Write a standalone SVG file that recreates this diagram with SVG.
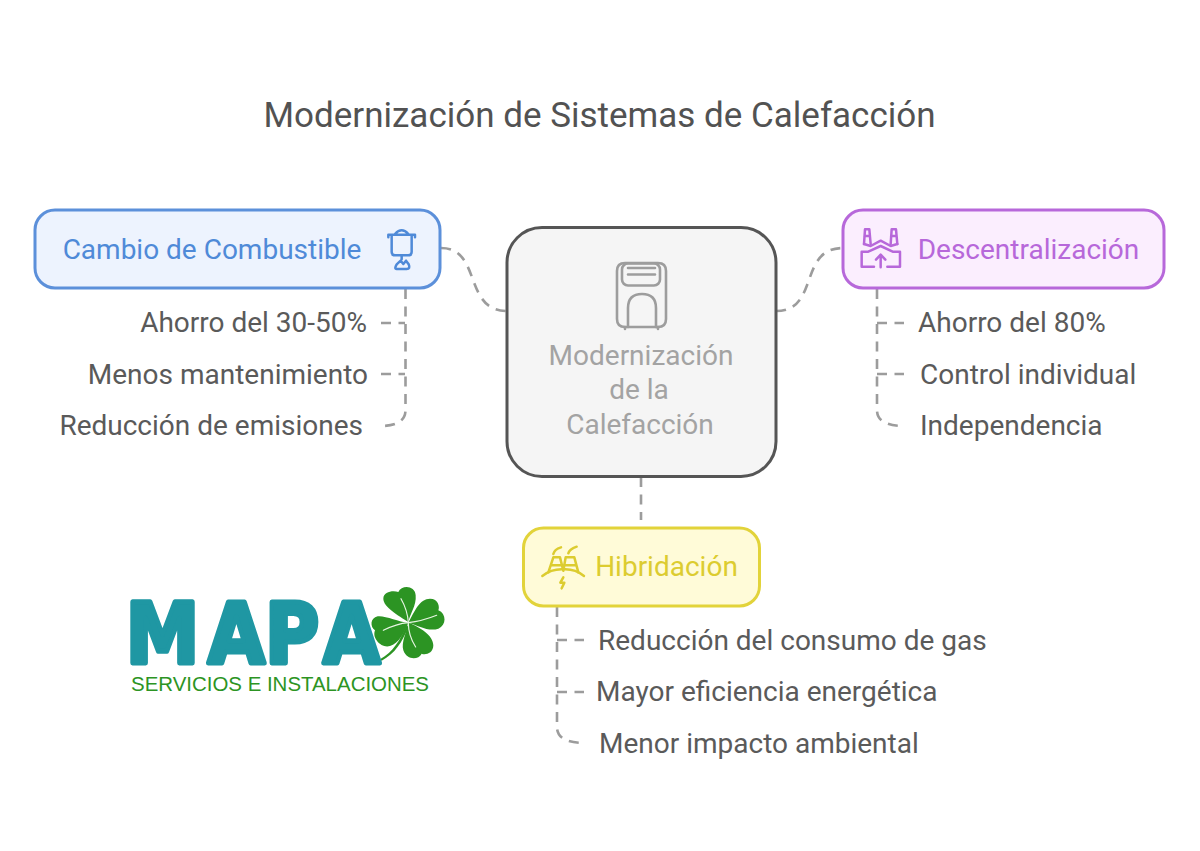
<svg xmlns="http://www.w3.org/2000/svg" width="1200" height="851" viewBox="0 0 1200 851">
<style>
text{font-family:Roboto,"Liberation Sans",sans-serif}
.title{font-size:35px;fill:#525252}
.lbl{font-size:28px}
.item{font-size:28px;fill:#5a5a5a}
.box{stroke-width:3}
.ic{fill:none;stroke-width:2.600;stroke-linecap:round;stroke-linejoin:round}
.ic3{fill:none;stroke-width:7.500;stroke-linecap:round;stroke-linejoin:round}
.c{fill:none;stroke:#9c9c9c;stroke-width:2.600;stroke-dasharray:10 7.500}
.vein{fill:none;stroke:#e8f5e4;stroke-width:3.500;stroke-linecap:round}
</style>
<rect width="1200" height="851" fill="#fff"/>
<text class="title" x="599.500" y="127" text-anchor="middle">Modernización de Sistemas de Calefacción</text>
<g id="connectors">
<path class="c" d="M441 248C482 248 463 311 507 311"/>
<path class="c" d="M776 311C820 311 798 248 843 248"/>
<path class="c" d="M641 477V520"/>
<path class="c" d="M405.500 289V410C405.500 420 398 426 381 426"/>
<path class="c" d="M381 323H405"/>
<path class="c" d="M381 374H405"/>
<path class="c" d="M877 289V410C877 420 885 426 905 426"/>
<path class="c" d="M877 323H904"/>
<path class="c" d="M877 374H904"/>
<path class="c" d="M557 607V727C557 737 565 743 585 743"/>
<path class="c" d="M557 640H584"/>
<path class="c" d="M557 692H584"/>
</g>
<g id="node-combustible">
<rect class="box" x="35" y="210" width="405" height="78" rx="20" fill="#edf3fe" stroke="#5c90da"/>
<text class="lbl" x="212" y="258.500" text-anchor="middle" fill="#4f8ad8">Cambio de Combustible</text>
<g class="ic3" stroke="#4f8ad8" transform="translate(380 222) scale(.3333)">
<path d="M25 46V38H105V46M35 38V90Q35 100 45 100H85Q95 100 95 90V38M45 36Q65 14 85 36M65 100V112"/>
<path d="M50 141H80Q92 141 86 127L78 116L70 126L62 116L50 127Q42 141 50 141Z"/>
</g>
</g>
<g id="node-central">
<rect class="box" x="507" y="227.500" width="269" height="249" rx="35" fill="#f5f5f5" stroke="#555"/>
<g class="ic" stroke="#9d9d9d">
<path d="M625 263H658Q666 263 666 271V319Q666 327 658 327H625Q617 327 617 319V271Q617 263 625 263Z"/>
<rect x="622" y="263.500" width="38" height="22" rx="6"/>
<path d="M628 268H655M628 274.500H655M628 327V308Q628 294 642 294Q656 294 656 308V327M625 327V329M658 327V329"/>
</g>
<g font-size="28" fill="#a3a3a3" text-anchor="middle">
<text x="641" y="365">Modernización</text>
<text x="639" y="399">de la</text>
<text x="640" y="434">Calefacción</text>
</g>
</g>
<g id="node-descentralizacion">
<rect class="box" x="843" y="210" width="321" height="78" rx="20" fill="#fbeefe" stroke="#b768da"/>
<text class="lbl" x="1028.500" y="258.500" text-anchor="middle" fill="#b768da">Descentralización</text>
<g class="ic3" stroke="#b768da" transform="translate(850 220) scale(.3333)">
<path d="M42 72L45 28H58L62 72M43 48H60M122 72L125 28H138L142 72M123 48H140"/>
<path d="M42 72L62 78L92 62L122 78L142 72"/>
<path d="M72 140H35V95H55L92 78L128 95H150V140H112"/>
<path d="M92 142V105M78 119L92 104L106 119"/>
</g>
</g>
<g id="node-hibridacion">
<rect class="box" x="523.500" y="528" width="236" height="78" rx="20" fill="#fffbd8" stroke="#e2d33a"/>
<text class="lbl" x="666.500" y="576" text-anchor="middle" fill="#dccc30">Hibridación</text>
<g class="ic3" stroke="#dccc30" transform="translate(535 540) scale(.3333)">
<path d="M55 42Q58 28 78 22M100 40Q103 28 125 20"/>
<path d="M40 97L55 52H75L85 92L92 52H118L130 97M48 76H78M90 76H124"/>
<path d="M22 108Q50 86 85 88Q120 86 147 108"/>
<path d="M85 112L76 128H88L80 145"/>
</g>
</g>
<g id="items-left" text-anchor="end">
<text class="item" x="367" y="332">Ahorro del 30-50%</text>
<text class="item" x="368" y="383.500">Menos mantenimiento</text>
<text class="item" x="363" y="435">Reducción de emisiones</text>
</g>
<g id="items-right">
<text class="item" x="918" y="332">Ahorro del 80%</text>
<text class="item" x="920" y="383.500">Control individual</text>
<text class="item" x="920" y="435">Independencia</text>
</g>
<g id="items-bottom">
<text class="item" x="598" y="649.500">Reducción del consumo de gas</text>
<text class="item" x="596" y="701">Mayor eficiencia energética</text>
<text class="item" x="599" y="752.500">Menor impacto ambiental</text>
</g>
<g id="logo">
<g fill="#2c9423" transform="translate(365 582) scale(.3333)">
<path d="M125 130C105 175 85 210 45 232L50 236C90 215 112 180 130 135Z"/>
<path d="M130 120C100 100 55 75 55 50C55 28 85 25 100 30C110 8 150 10 152 40C155 70 135 95 130 120Z"/>
<path d="M130 122C150 85 165 50 195 50C220 50 225 75 220 85C245 95 245 130 220 140C190 150 160 130 130 122Z"/>
<path d="M130 122C165 135 205 160 205 190C205 215 180 220 170 215C160 235 125 235 115 205C108 180 125 150 130 122Z"/>
<path d="M130 122C100 120 60 100 38 103C15 108 15 135 30 145C20 170 50 200 75 192C100 185 120 150 130 122Z"/>
<path class="vein" d="M108 50Q128 85 130 122M215 100Q170 118 130 122M152 195Q130 160 130 122M55 145Q95 125 130 122"/>
</g>
<g transform="translate(0 663) scale(.88 1)">
<text x="143 236 301 367" y="0" font-size="84" font-weight="700" fill="#1f97a3" stroke="#1f97a3" stroke-width="5" stroke-linejoin="round" style="font-family:'DejaVu Sans',sans-serif">MAPA</text>
</g>
<text x="131" y="691" font-size="20" textLength="298" lengthAdjust="spacingAndGlyphs" fill="#2c9423" style="font-family:'Liberation Sans',sans-serif">SERVICIOS E INSTALACIONES</text>
</g>
</svg>
